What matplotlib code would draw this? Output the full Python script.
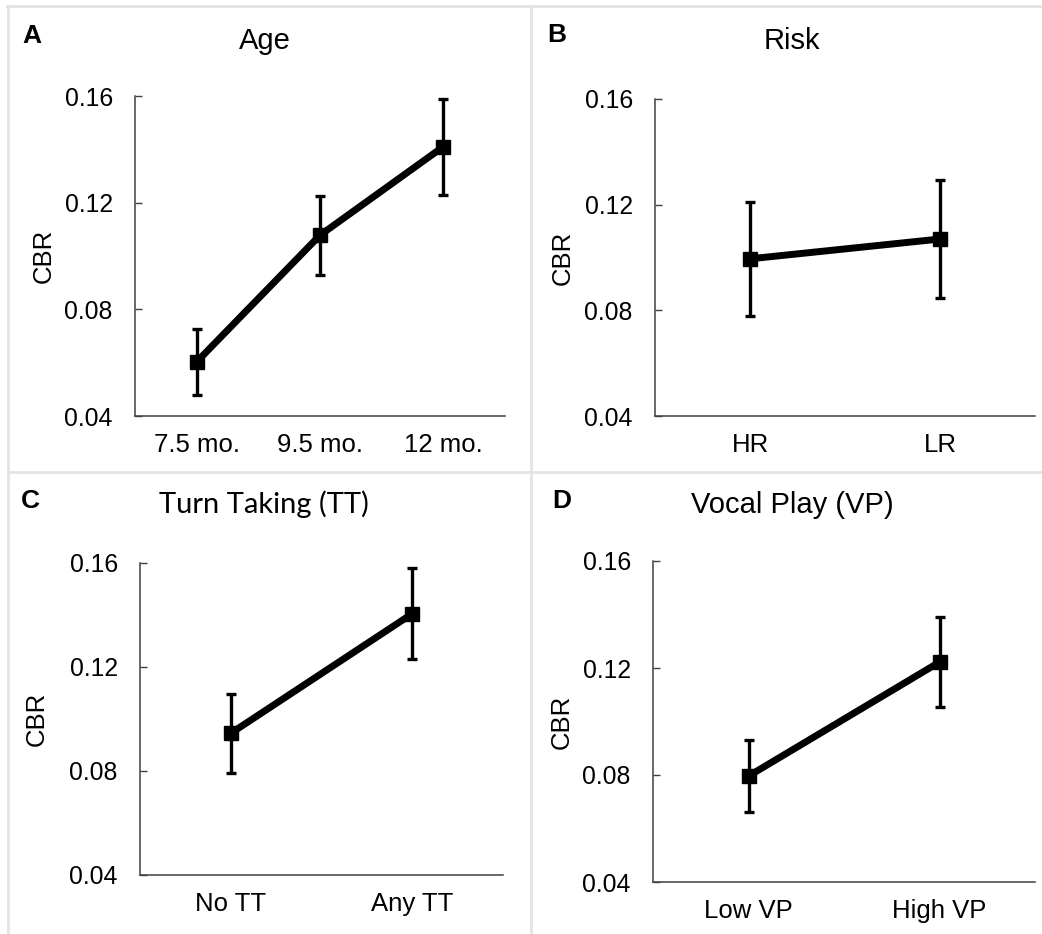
import matplotlib
matplotlib.use("Agg")
import matplotlib.pyplot as plt
from matplotlib.lines import Line2D

W, H = 1042, 934
DPI = 100

# ---- data ----
age_labels = ["7.5 mo.", "9.5 mo.", "12 mo."]
age_means = [0.0603, 0.1078, 0.1410]
age_errs = [0.0125, 0.0148, 0.0180]

risk_labels = ["HR", "LR"]
risk_means = [0.0995, 0.1070]
risk_errs = [0.0215, 0.0223]

tt_labels = ["No TT", "Any TT"]
tt_means = [0.0945, 0.1405]
tt_errs = [0.0152, 0.0175]

vp_labels = ["Low VP", "High VP"]
vp_means = [0.0796, 0.1222]
vp_errs = [0.0133, 0.0168]

yticks = [0.04, 0.08, 0.12, 0.16]
ytick_labels = ["0.04", "0.08", "0.12", "0.16"]

panels = [
    ("A", "Age", age_labels, age_means, age_errs, (135, 505, 96, 416), 265, 22, 43, 49, 44, "Liberation Sans", "Liberation Sans"),
    ("B", "Risk", risk_labels, risk_means, risk_errs, (655, 1035, 99, 416), 792, 547, 42, 49, 563, "Liberation Sans", "Liberation Sans"),
    ("C", "Turn Taking (TT)", tt_labels, tt_means, tt_errs, (140, 503, 563, 875), 264, 21, 508, 513, 37, "Lato", "Liberation Sans"),
    ("D", "Vocal Play (VP)", vp_labels, vp_means, vp_errs, (653, 1035, 561, 882), 792, 552, 508, 513, 562, "Liberation Sans", "Liberation Sans"),
]

fig = plt.figure(figsize=(W / DPI, H / DPI), dpi=DPI)
fig.patch.set_facecolor("white")

def fx(px):
    return px / W

def fy(py):
    return 1 - py / H

border = "#e4e4e4"
for (x0, y0, x1, y1) in [(7, 6, 1042, 6), (8, 6, 8, 934), (531, 6, 531, 934), (8, 472, 1042, 472)]:
    fig.add_artist(Line2D([fx(x0), fx(x1)], [fy(y0), fy(y1)], color=border, lw=2.0))

for (letter, title, labels, means, errs, box, tcx, lx, lby, tby, ylx, tfont, xfont) in panels:
    l, r, t, b = box
    ax = fig.add_axes([fx(l), fy(b), fx(r) - fx(l), fy(t) - fy(b)])
    n = len(labels)
    xs = [i + 0.5 for i in range(n)]
    ax.errorbar(xs, means, yerr=errs, fmt="none", ecolor="black", elinewidth=2.4,
                capsize=3.8, capthick=2.4, zorder=2)
    ax.plot(xs, means, color="black", lw=5.0, marker="s", markersize=9.5,
            markerfacecolor="black", markeredgecolor="black", zorder=3,
            solid_capstyle="butt")
    ax.set_xlim(0, n)
    ax.set_ylim(0.04, 0.16)
    ax.set_yticks(yticks)
    ax.set_yticklabels(ytick_labels, fontsize=17.8, family="Liberation Sans")
    ax.set_xticks(xs)
    ax.set_xticklabels(labels, fontsize=18.5, family=xfont)
    ax.tick_params(axis="y", direction="in", length=5, width=1.0, color="#404040", pad=16)
    ax.tick_params(axis="x", length=0, pad=12)
    for s in ["top", "right"]:
        ax.spines[s].set_visible(False)
    for s in ["left", "bottom"]:
        ax.spines[s].set_color("#404040")
        ax.spines[s].set_linewidth(1.1)
    ax.patch.set_alpha(0)
    fig.text(fx(ylx), fy((t + b) / 2), "CBR", rotation=90, ha="center", va="center",
             fontsize=18.5, family="Liberation Sans")
    fig.text(fx(tcx), fy(tby), title, ha="center", va="baseline", fontsize=21,
             family=tfont)
    fig.text(fx(lx), fy(lby), letter, ha="left", va="baseline", fontsize=19,
             fontweight="bold", family="Liberation Sans")

fig.savefig("out.png", dpi=DPI, facecolor="white")
